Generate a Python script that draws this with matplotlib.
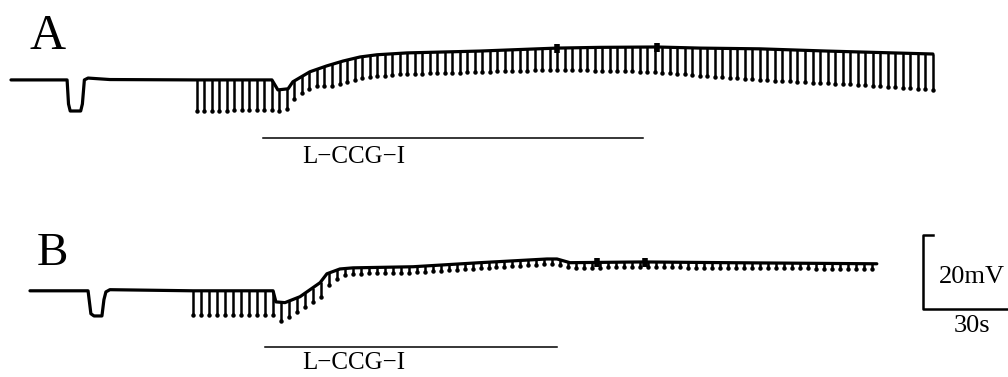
import numpy as np
import matplotlib
matplotlib.use('Agg')
from matplotlib import pyplot as plt

plt.rcParams['font.family'] = ['Liberation Serif', 'DejaVu Serif']

# trace A : time (s) and membrane potential (mV, relative to rest)
a_t = [0, 19.8, 20.3, 20.9, 24.6, 25.2, 25.9, 27.2, 34.9, 65, 92.1, 94.2, 97.8,
       99.5, 105.5, 111.5, 117.2, 123.2, 129.2, 139.8, 165.5, 192.7, 207.9,
       228, 243.2, 264.3, 288, 325.4]
a_v = [0, 0, -6.5, -8.4, -8.4, -6.5, 0, 0.5, 0.1, 0, 0, -2.7, -2.4,
       -0.5, 2.2, 3.8, 5.1, 6.2, 6.8, 7.3, 7.8, 8.6, 8.8,
       8.9, 8.6, 8.4, 7.8, 7.0]
# hyperpolarizing pulse amplitude (mV) in trace A
a_amp_t = [65.6, 92.1, 94.9, 102, 109.1, 112.6, 137.3, 172.6, 192.7, 228, 246.7, 264.3, 299.6, 325.4]
a_amp_v = [8.4, 8.1, 5.7, 4.6, 4.6, 5.9, 5.7, 5.7, 5.9, 6.8, 7.6, 8.4, 8.9, 9.7]
a_first, a_step, a_n = 65.6, 2.65, 99
a_spikes = [192.7, 228]

# trace B
b_t = [6.7, 27.2, 28.2, 29.3, 32.1, 32.8, 33.5, 34.9, 64.2, 92.5, 93.5, 96.7,
       102, 109.1, 111.5, 116.1, 120.7, 141.9, 165.5, 189.2, 192.7, 197.3,
       223, 252.7, 305.6]
b_v = [0, 0, -6.2, -6.8, -6.8, -2.4, -0.3, 0.3, 0, 0, -3.0, -3.2,
       -1.6, 2.2, 4.6, 5.9, 6.2, 6.5, 7.6, 8.6, 8.6, 7.6,
       7.8, 7.6, 7.3]
b_amp_t = [64.2, 92.5, 94.2, 96.7, 102, 109.1, 113.6, 117.9, 141.9, 192.7, 305.6]
b_amp_v = [6.5, 6.5, 5.4, 4.6, 3.5, 4.1, 2.7, 1.6, 1.6, 1.4, 1.4]
b_first, b_step, b_n = 64.2, 2.82, 86
b_spikes = [206.8, 223.8]

# L-CCG-I application (s)
drug_a = [88.9, 223.0]
drug_b = [89.6, 192.7]

b_off = -57.0  # vertical offset of trace B

fig = plt.figure(figsize=(10.08, 3.77), dpi=100)
ax = fig.add_axes([0, 0, 1, 1])
ax.set_xlim(-3.88, 351.9)
ax.set_ylim(-80.3, 21.6)
ax.axis('off')


def draw_trace(t, v, amp_t, amp_v, first, step, n, spikes, off):
    t = np.array(t)
    v = np.array(v) + off
    ax.plot(t, v, color='black', lw=2.3, solid_capstyle='round', solid_joinstyle='round')
    pt = first + step * np.arange(n)
    top = np.interp(pt, t, v)
    bot = top - np.interp(pt, amp_t, amp_v)
    ax.vlines(pt, bot, top, color='black', lw=1.8)
    ax.plot(pt, bot, 'o', color='black', ms=2.2)
    for s in spikes:
        y = np.interp(s, t, v)
        ax.vlines(s, y - 1.3, y + 1.2, color='black', lw=4.0)


draw_trace(a_t, a_v, a_amp_t, a_amp_v, a_first, a_step, a_n, a_spikes, 0)
draw_trace(b_t, b_v, b_amp_t, b_amp_v, b_first, b_step, b_n, b_spikes, b_off)

# drug bars and labels
ax.plot(drug_a, [-15.7, -15.7], color='black', lw=1.1)
ax.text(102.7, -20.8, 'L\u2212CCG\u2212I', fontsize=18, va='center', ha='left')
ax.plot(drug_b, [b_off - 15.1, b_off - 15.1], color='black', lw=1.1)
ax.text(102.7, b_off - 19.5, 'L\u2212CCG\u2212I', fontsize=18, va='center', ha='left')

# panel letters
ax.text(12.9, 11.8, 'A', fontsize=36, va='center', ha='center')
ax.text(14.6, -46.9, 'B', fontsize=34, va='center', ha='center')

# scale bar: 30 s, 20 mV
sx, sy = 321.9, -61.9
ax.plot([sx + 3.5, sx, sx, sx + 30], [sy + 20, sy + 20, sy, sy], color='black', lw=1.8)
ax.text(sx + 5.6, sy + 8.7, '20mV', fontsize=19, va='center', ha='left')
ax.text(sx + 17.3, sy - 4.6, '30s', fontsize=19, va='center', ha='center')

fig.savefig('out.png', dpi=100)
